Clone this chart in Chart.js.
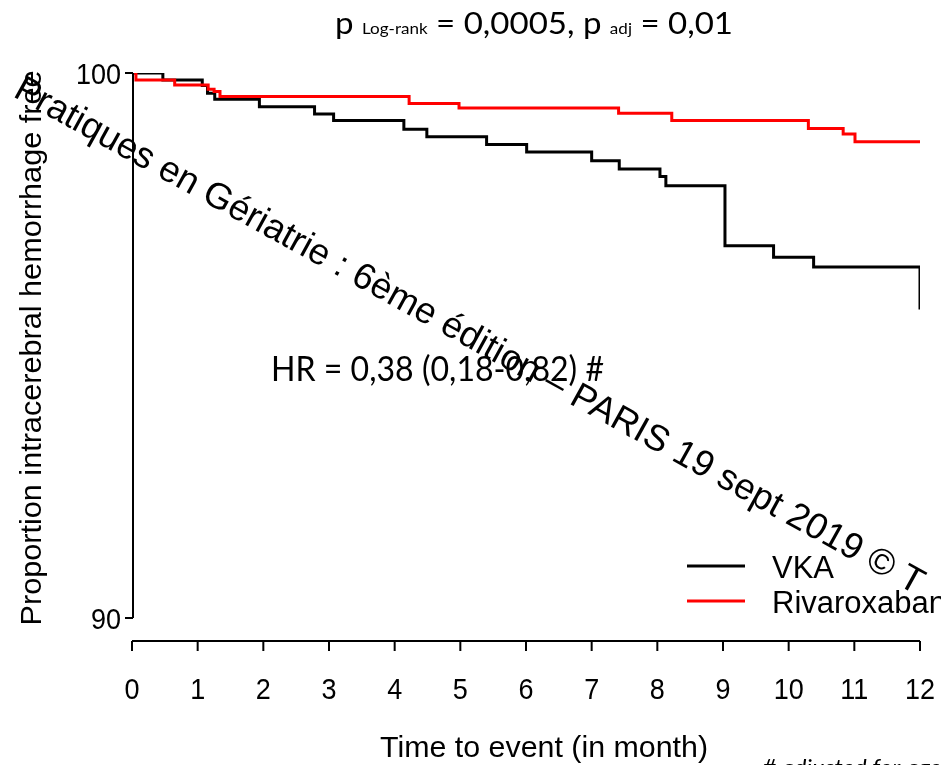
<!DOCTYPE html>
<html>
<head>
<meta charset="utf-8">
<script src="https://cdn.jsdelivr.net/npm/chart.js@4/dist/chart.umd.min.js"></script>
<style>
  body { margin: 0; background: #fff; }
  canvas { display: block; }
</style>
</head>
<body>
<canvas id="kmChart" width="941" height="765"></canvas>
<script>
// DATA
const monthTicks = [0, 1, 2, 3, 4, 5, 6, 7, 8, 9, 10, 11, 12];
const yTicks = [90, 100];

const vkaTimes  = [0, 0.47, 1.07, 1.15, 1.26, 1.94, 2.78, 3.07, 4.14, 4.49, 5.40, 6.01, 7.00, 7.42, 8.04, 8.13, 9.03, 9.77, 10.38, 12];
const vkaValues = [100, 99.87, 99.77, 99.63, 99.52, 99.38, 99.25, 99.13, 98.97, 98.83, 98.69, 98.55, 98.39, 98.24, 98.10, 97.93, 96.83, 96.62, 96.44, 95.66];

const rivaTimes  = [0, 0.06, 0.65, 1.16, 1.25, 1.34, 4.22, 4.98, 7.41, 8.22, 10.30, 10.83, 11.01, 12];
const rivaValues = [100, 99.87, 99.78, 99.70, 99.66, 99.57, 99.44, 99.36, 99.26, 99.13, 98.98, 98.88, 98.74, 98.74];

const seriesNames = ["VKA", "Rivaroxaban"];

function toPoints(times, values) {
  return times.map((t, i) => ({ x: t, y: values[i] }));
}

const ARIAL = '"Liberation Sans", Arial, sans-serif';
const CALIBRI = 'Lato, "Open Sans", sans-serif';

// draw text squeezed / stretched horizontally (sx = factor)
function drawText(ctx, str, x, y, font, sx, align) {
  ctx.save();
  ctx.font = font;
  let w = ctx.measureText(str).width * sx;
  let left = x;
  if (align === "center") left = x - w / 2;
  if (align === "right") left = x - w;
  ctx.translate(left, y);
  ctx.scale(sx, 1);
  ctx.textAlign = "left";
  ctx.fillText(str, 0, 0);
  ctx.restore();
  return w;
}

function fitText(ctx, str, x, y, font, width, align) {
  ctx.font = font;
  return drawText(ctx, str, x, y, font, width / ctx.measureText(str).width, align);
}

const decorPlugin = {
  id: "decor",
  afterDraw(chart) {
    const ctx = chart.ctx;
    const xs = chart.scales.x;
    const ys = chart.scales.y;
    ctx.save();
    ctx.fillStyle = "#000";
    ctx.strokeStyle = "#000";
    ctx.lineWidth = 2;
    ctx.textBaseline = "alphabetic";

    // y axis
    const yAxisX = xs.getPixelForValue(0) + 1;
    ctx.beginPath();
    ctx.moveTo(yAxisX, ys.getPixelForValue(100));
    ctx.lineTo(yAxisX, ys.getPixelForValue(90));
    yTicks.forEach(v => {
      ctx.moveTo(yAxisX, ys.getPixelForValue(v));
      ctx.lineTo(yAxisX - 8, ys.getPixelForValue(v));
    });
    ctx.stroke();
    yTicks.forEach(v => {
      drawText(ctx, String(v), 121, ys.getPixelForValue(v) + 11, "30px " + ARIAL, 0.9, "right");
    });

    // x axis, detached below the plot
    const xAxisY = 641;
    ctx.beginPath();
    ctx.moveTo(xs.getPixelForValue(0), xAxisY);
    ctx.lineTo(xs.getPixelForValue(12), xAxisY);
    monthTicks.forEach(m => {
      ctx.moveTo(xs.getPixelForValue(m), xAxisY);
      ctx.lineTo(xs.getPixelForValue(m), xAxisY + 10);
    });
    ctx.stroke();
    monthTicks.forEach(m => {
      drawText(ctx, String(m), xs.getPixelForValue(m), 699, "30px " + ARIAL, 0.9, "center");
    });

    // axis titles
    fitText(ctx, "Time to event (in month)", 544, 757, "30px " + ARIAL, 328, "center");
    ctx.save();
    ctx.translate(41, 348);
    ctx.rotate(-Math.PI / 2);
    fitText(ctx, "Proportion intracerebral hemorrhage free", 0, 0, "29px " + ARIAL, 555, "center");
    ctx.restore();

    // title with subscripts
    const big = "31px " + CALIBRI, small = "16px " + CALIBRI;
    const parts = [["p ", big], ["Log-rank", small], [" = 0,0005, p ", big], ["adj", small], [" = 0,01", big]];
    let total = 0;
    parts.forEach(p => { ctx.font = p[1]; total += ctx.measureText(p[0]).width; });
    const tsx = 398 / total;
    let cx = 335;
    parts.forEach(p => {
      cx += drawText(ctx, p[0], cx, 34, p[1], tsx, "left");
    });

    // HR annotation
    fitText(ctx, "HR = 0,38 (0,18-0,82) #", 271, 381, "34px " + CALIBRI, 333, "left");

    // legend
    const legendColors = ["#000000", "#ff0000"];
    seriesNames.forEach((name, i) => {
      const ly = 566 + i * 35;
      ctx.strokeStyle = legendColors[i];
      ctx.lineWidth = 3;
      ctx.beginPath();
      ctx.moveTo(687, ly);
      ctx.lineTo(745, ly);
      ctx.stroke();
      drawText(ctx, name, 772, ly + 12, "31px " + ARIAL, 1, "left");
    });

    // footnote (cut by the edge)
    drawText(ctx, "# adjusted for age", 762, 776, "italic 24px " + CALIBRI, 1, "left");

    // watermark
    ctx.save();
    ctx.translate(12, 96);
    ctx.rotate(28.9 * Math.PI / 180);
    drawText(ctx, "Pratiques en Gériatrie : 6ème édition – PARIS 19 sept 2019 © T", 0, 0, "36.5px " + ARIAL, 1, "left");
    ctx.restore();

    ctx.restore();
  }
};

new Chart(document.getElementById("kmChart").getContext("2d"), {
  type: "line",
  data: {
    datasets: [
      {
        label: seriesNames[0],
        data: toPoints(vkaTimes, vkaValues),
        borderColor: "#000000",
        borderWidth: 3,
        stepped: "before",
        pointRadius: 0,
        fill: false,
        order: 2
      },
      {
        label: seriesNames[1],
        data: toPoints(rivaTimes, rivaValues),
        borderColor: "#ff0000",
        borderWidth: 3,
        stepped: "before",
        pointRadius: 0,
        fill: false,
        order: 1
      }
    ]
  },
  options: {
    responsive: false,
    animation: false,
    layout: { padding: { left: 132, right: 21, top: 73, bottom: 147 } },
    scales: {
      x: { type: "linear", min: 0, max: 12, display: false },
      y: { type: "linear", min: 90, max: 100, display: false }
    },
    plugins: {
      legend: { display: false },
      tooltip: { enabled: false }
    }
  },
  plugins: [decorPlugin]
});
</script>
</body>
</html>
